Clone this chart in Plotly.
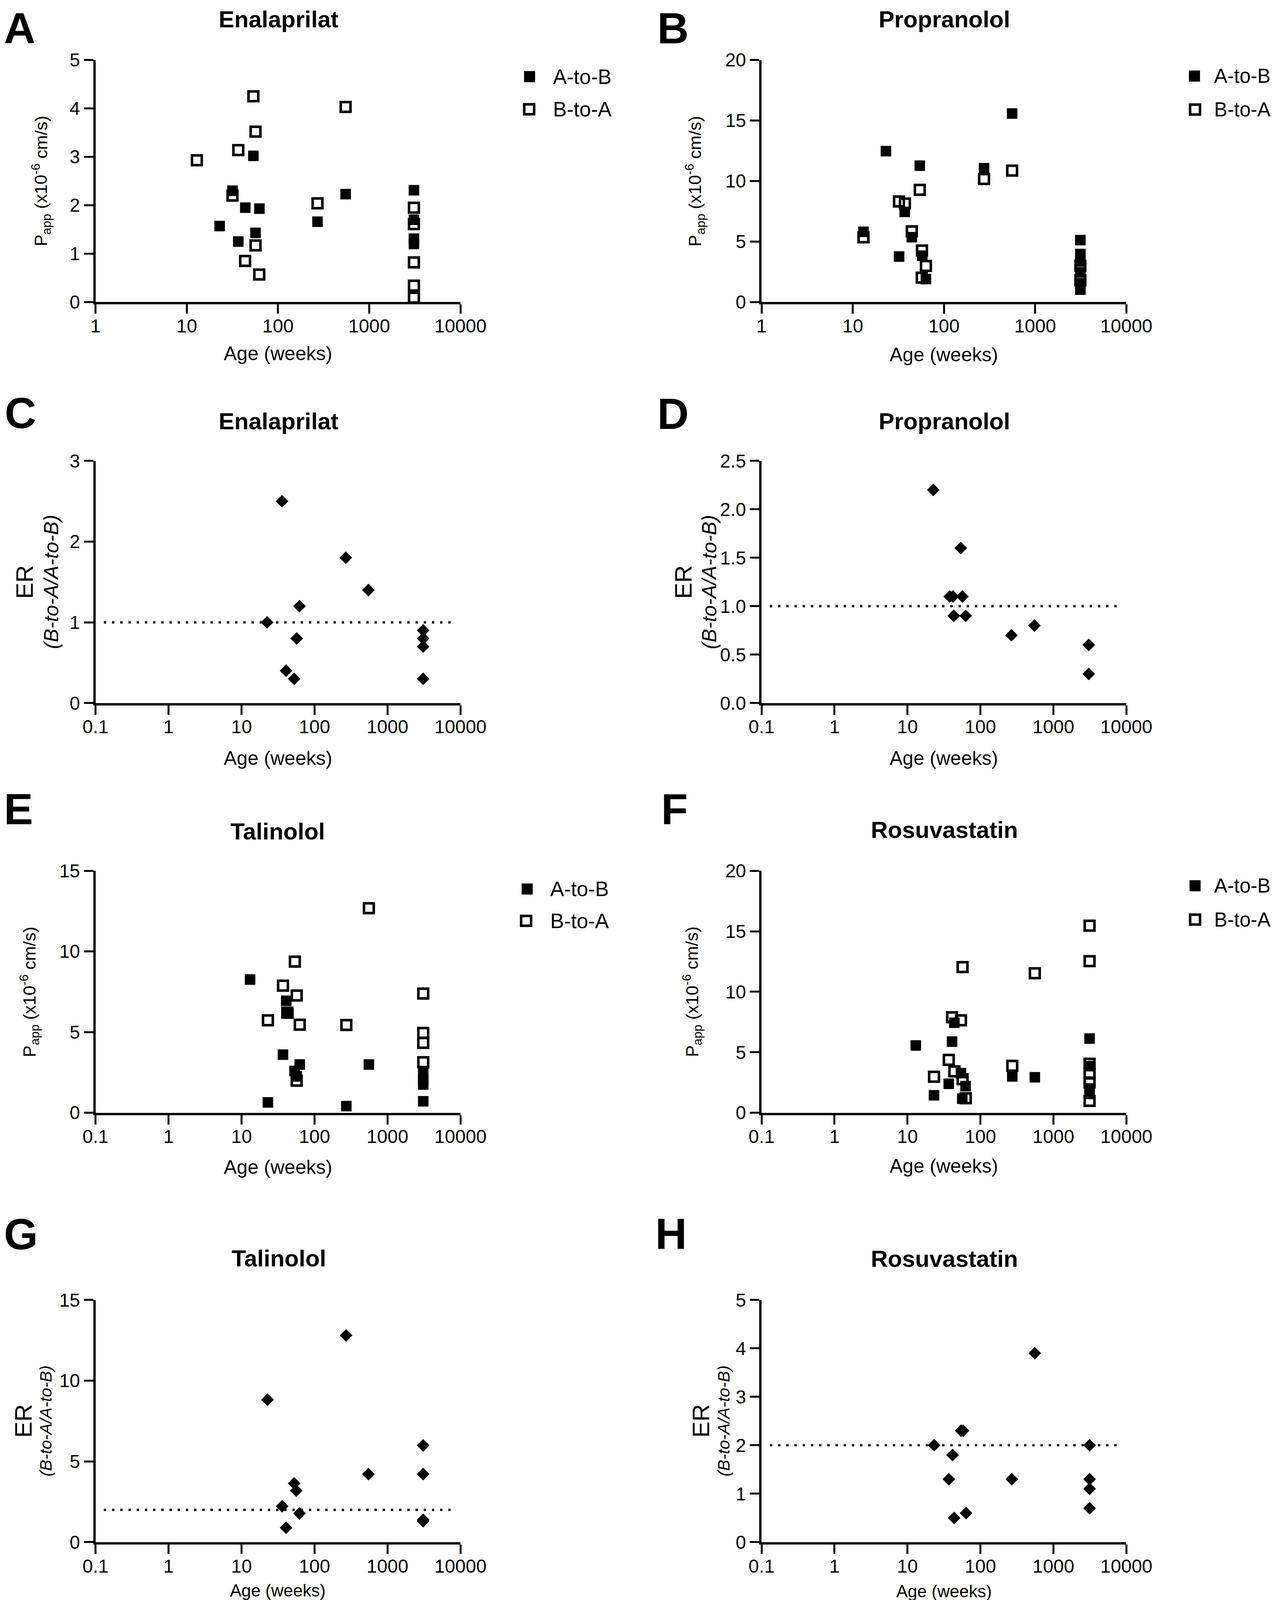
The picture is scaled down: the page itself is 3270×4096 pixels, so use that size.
import math
import plotly.graph_objects as go

# ---------------- data ----------------
X_TICKS_1 = [1, 10, 100, 1000, 10000]
X_TEXT_1 = ["1", "10", "100", "1000", "10000"]
X_TICKS_01 = [0.1, 1, 10, 100, 1000, 10000]
X_TEXT_01 = ["0.1", "1", "10", "100", "1000", "10000"]

# Panel A - Enalaprilat Papp
ENA_AB_AGE = [22.9, 31.7, 36.7, 43.8, 53.7, 56.7, 62.5, 271, 551, 3090, 3090, 3090, 3090]
ENA_AB_VAL = [1.57, 2.30, 1.25, 1.95, 3.02, 1.43, 1.93, 1.66, 2.23, 2.31, 1.70, 1.31, 1.20]
ENA_BA_AGE = [12.9, 31.7, 36.7, 43.6, 53.7, 56.7, 56.7, 62.3, 271, 551, 3090, 3090, 3090, 3090, 3090]
ENA_BA_VAL = [2.93, 2.20, 3.14, 0.85, 4.25, 3.52, 1.17, 0.57, 2.04, 4.03, 1.95, 1.61, 0.82, 0.34, 0.09]

# Panel B - Propranolol Papp
PRO_AB_AGE = [13.1, 23.1, 32.2, 37.1, 44.4, 54.3, 57.8, 63.4, 275, 559, 3130, 3130, 3130, 3130, 3130, 3130]
PRO_AB_VAL = [5.80, 12.47, 3.76, 7.45, 5.36, 11.27, 3.83, 1.90, 11.06, 15.58, 5.12, 3.97, 3.35, 2.45, 1.55, 1.03]
PRO_BA_AGE = [13.1, 32.1, 37.3, 44.4, 54.3, 57.4, 57.1, 63.4, 275, 559, 3130, 3130]
PRO_BA_VAL = [5.35, 8.31, 8.14, 5.84, 9.27, 4.26, 2.02, 2.99, 10.17, 10.86, 3.00, 1.80]

# Panel C - Enalaprilat ER
ENA_ER_AGE = [22.4, 35.9, 40.8, 52.7, 57.0, 62.3, 268, 548, 3083, 3083, 3083, 3083]
ENA_ER_VAL = [1.0, 2.5, 0.4, 0.3, 0.8, 1.2, 1.8, 1.4, 0.9, 0.8, 0.7, 0.3]

# Panel D - Propranolol ER
PRO_ER_AGE = [22.6, 37.9, 42.0, 43.1, 53.7, 56.5, 62.7, 266, 548, 3050, 3050]
PRO_ER_VAL = [2.2, 1.1, 1.1, 0.9, 1.6, 1.1, 0.9, 0.7, 0.8, 0.6, 0.3]

# Panel E - Talinolol Papp
TAL_AB_AGE = [13.1, 23.0, 37.0, 41.0, 44.0, 53.3, 57.0, 62.8, 273, 556, 3090, 3090, 3090, 3090]
TAL_AB_VAL = [8.26, 0.64, 3.60, 6.94, 6.15, 2.59, 2.25, 2.99, 0.41, 2.99, 2.45, 2.05, 1.75, 0.71]
TAL_BA_AGE = [23.0, 37.0, 42.4, 53.8, 57.0, 57.0, 62.8, 273, 556, 3090, 3090, 3090, 3090]
TAL_BA_VAL = [5.73, 7.88, 6.20, 9.37, 7.27, 1.99, 5.46, 5.44, 12.68, 7.39, 4.95, 4.33, 3.13]

# Panel F - Rosuvastatin Papp
ROS_AB_AGE = [13.0, 23.1, 36.8, 40.8, 43.9, 54.1, 56.3, 62.5, 273, 556, 3130, 3130, 3130, 3130]
ROS_AB_VAL = [5.56, 1.44, 2.39, 5.88, 7.44, 3.27, 1.16, 2.20, 3.00, 2.93, 6.13, 3.85, 2.00, 1.55]
ROS_BA_AGE = [23.1, 36.8, 40.8, 43.9, 54.1, 56.9, 56.9, 63.0, 273, 556, 3130, 3130, 3130, 3130, 3130, 3130]
ROS_BA_VAL = [2.97, 4.37, 7.89, 3.42, 7.64, 12.04, 2.77, 1.20, 3.88, 11.53, 15.46, 12.53, 4.05, 3.24, 2.50, 0.98]

# Panel G - Talinolol ER
TAL_ER_AGE = [22.7, 36.0, 40.8, 52.7, 56.2, 62.3, 271, 548, 3083, 3083, 3083, 3083]
TAL_ER_VAL = [8.82, 2.22, 0.89, 3.64, 3.19, 1.78, 12.80, 4.21, 5.99, 4.21, 1.38, 1.30]

# Panel H - Rosuvastatin ER
ROS_ER_AGE = [23.2, 36.9, 41.5, 43.6, 54.3, 57.9, 63.5, 269, 555, 3133, 3133, 3133, 3133]
ROS_ER_VAL = [2.0, 1.3, 1.8, 0.5, 2.3, 2.3, 0.6, 1.3, 3.9, 2.0, 1.3, 1.1, 0.7]

ER_REF_X = [0.13, 8500]

SERIES_NAMES = ["A-to-B", "B-to-A"]
# "Papp (x10-6 cm/s)" split into (text, role, space-before)
PAPP_PIECES = [("P", "base", False), ("app", "sub", False), ("(x10", "base", True),
               ("-6", "sup", False), ("cm/s)", "base", True)]
ER_MAIN = "ER"
ER_SUB = "(B-to-A/A-to-B)"
X_TITLE = "Age (weeks)"

# ---------------- geometry (reference pixel space) ----------------
RW, RH = 3917, 4907
W, H = 3270, 4096
K = W / RW

def px(x):
    return x / RW

def py(y):
    return 1 - y / RH

COLS = [(283.5, 1402.8), (2326.4, 3445.4)]
ROWS = [(174.5, 916.8), (1404.0, 2146.5), (2661.0, 3403.0), (3977.0, 4720.0)]

SANS = "Liberation Sans, Arial, sans-serif"

# Arial / Liberation Sans advance widths (em)
ADV = {"P": .667, "a": .556, "p": .556, "(": .333, "x": .5, "1": .556, "0": .556, "-": .333,
       "6": .556, "c": .5, "m": .833, "/": .278, "s": .5, ")": .333, " ": .278}

def text_w(t, size):
    return sum(ADV.get(ch, .556) for ch in t) * size

panels = [
    dict(letter="A", title="Enalaprilat", col=0, row=0, kind="papp", xt=(X_TICKS_1, X_TEXT_1),
         y=[0, 1, 2, 3, 4, 5], yfmt="{:g}", ab=(ENA_AB_AGE, ENA_AB_VAL), ba=(ENA_BA_AGE, ENA_BA_VAL),
         ytitle_x=116, legend=((1614.8, 225.5), (1613.6, 325.6), 1684), xtitle_y=1075, xtsize=50, lsize=53),
    dict(letter="B", title="Propranolol", col=1, row=0, kind="papp", xt=(X_TICKS_1, X_TEXT_1),
         y=[0, 5, 10, 15, 20], yfmt="{:g}", ab=(PRO_AB_AGE, PRO_AB_VAL), ba=(PRO_BA_AGE, PRO_BA_VAL),
         ytitle_x=2122, legend=((3654.2, 223.7), (3656.0, 326.4), 3712), xtitle_y=1078, xtsize=50, lsize=51),
    dict(letter="C", title="Enalaprilat", col=0, row=1, kind="er", xt=(X_TICKS_01, X_TEXT_01),
         y=[0, 1, 2, 3], yfmt="{:g}", er=(ENA_ER_AGE, ENA_ER_VAL), thr=1,
         er_x=(66, 147), er_sub_size=52, xtitle_y=2316, xtsize=50),
    dict(letter="D", title="Propranolol", col=1, row=1, kind="er", xt=(X_TICKS_01, X_TEXT_01),
         y=[0, 0.5, 1.0, 1.5, 2.0, 2.5], yfmt="{:.1f}", er=(PRO_ER_AGE, PRO_ER_VAL), thr=1,
         er_x=(2087, 2165.8), er_sub_size=52, xtitle_y=2316, xtsize=50),
    dict(letter="E", title="Talinolol", col=0, row=2, kind="papp", xt=(X_TICKS_01, X_TEXT_01),
         y=[0, 5, 10, 15], yfmt="{:g}", ab=(TAL_AB_AGE, TAL_AB_VAL), ba=(TAL_BA_AGE, TAL_BA_VAL),
         ytitle_x=80.8, legend=((1607.4, 2716.9), (1604.2, 2814.5), 1676), xtitle_y=3570, xtsize=50, lsize=53),
    dict(letter="F", title="Rosuvastatin", col=1, row=2, kind="papp", xt=(X_TICKS_01, X_TEXT_01),
         y=[0, 5, 10, 15, 20], yfmt="{:g}", ab=(ROS_AB_AGE, ROS_AB_VAL), ba=(ROS_BA_AGE, ROS_BA_VAL),
         ytitle_x=2113, legend=((3656.1, 2706.9), (3656.1, 2810.6), 3712), xtitle_y=3566, xtsize=50, lsize=51),
    dict(letter="G", title="Talinolol", col=0, row=3, kind="er", xt=(X_TICKS_01, X_TEXT_01),
         y=[0, 5, 10, 15], yfmt="{:g}", er=(TAL_ER_AGE, TAL_ER_VAL), thr=2,
         er_x=(62, 130.6), er_sub_size=43, xtitle_y=4868, xtsize=44),
    dict(letter="H", title="Rosuvastatin", col=1, row=3, kind="er", xt=(X_TICKS_01, X_TEXT_01),
         y=[0, 1, 2, 3, 4, 5], yfmt="{:g}", er=(ROS_ER_AGE, ROS_ER_VAL), thr=2,
         er_x=(2140, 2210), er_sub_size=43, xtitle_y=4870, xtsize=44),
]

TITLE_POS = {"A": (845.6, 50), "B": (2887.7, 50), "C": (845.6, 1283), "D": (2887.7, 1282),
             "E": (842.5, 2540), "F": (2887.7, 2536), "G": (845.6, 3850), "H": (2887.7, 3851)}
# (left edge, vertical centre); None -> anchored to top of figure
LETTER_POS = {"A": (0, None), "B": (2004, None), "C": (2, 1257.6), "D": (2004, 1259.7),
              "E": (0, 2471.7), "F": (2016, 2471.7), "G": (0, 3776), "H": (1998, 3774)}

fig = go.Figure()
layout = dict(annotations=[], shapes=[])

axis_common = dict(showline=True, linecolor="black", linewidth=6, ticks="outside", ticklen=24,
                   tickwidth=5, tickcolor="black", showgrid=False, zeroline=False, automargin=False,
                   tickfont=dict(family=SANS, size=48, color="black"), fixedrange=True)

BASE = 45
SMALL = 32

for i, p in enumerate(panels, start=1):
    xa = "x" if i == 1 else f"x{i}"
    ya = "y" if i == 1 else f"y{i}"
    x0, x1 = COLS[p["col"]]
    y0, y1 = ROWS[p["row"]]
    tv, tt = p["xt"]
    layout[f"xaxis{i if i > 1 else ''}"] = dict(
        axis_common, domain=[px(x0), px(x1)], anchor=ya, type="log",
        range=[math.log10(tv[0]), math.log10(tv[-1])], tickvals=tv, ticktext=tt,
        ticklabelstandoff=-10)
    layout[f"yaxis{i if i > 1 else ''}"] = dict(
        axis_common, domain=[py(y1), py(y0)], anchor=xa, range=[p["y"][0], p["y"][-1]],
        tickvals=p["y"], ticktext=[p["yfmt"].format(v) for v in p["y"]])

    ymid = py((y0 + y1) / 2)
    if p["kind"] == "papp":
        fig.add_trace(go.Scatter(x=p["ab"][0], y=p["ab"][1], mode="markers", name=SERIES_NAMES[0],
                                 xaxis=xa, yaxis=ya, cliponaxis=False,
                                 marker=dict(symbol="square", size=27, color="black", line=dict(width=0))))
        fig.add_trace(go.Scatter(x=p["ba"][0], y=p["ba"][1], mode="markers", name=SERIES_NAMES[1],
                                 xaxis=xa, yaxis=ya, cliponaxis=False,
                                 marker=dict(symbol="square-open", size=25, color="black",
                                             line=dict(width=6.5, color="black"))))
        # rotated y title built from pieces (reads bottom to top)
        widths = []
        for t, role, sp in PAPP_PIECES:
            sz = BASE if role == "base" else SMALL
            widths.append((text_w(" ", BASE) if sp else 0.0, text_w(t, sz), sz, t, role))
        total = sum(g + w for g, w, _, _, _ in widths)
        ymid_out = (1 - ymid) * H
        xc_out = p["ytitle_x"] * K
        cursor = ymid_out + total / 2
        for g, w, sz, t, role in widths:
            cursor -= g
            cy = cursor - w / 2
            cursor -= w
            dx = 0.0
            if role == "sub":
                dx = 14.0
            elif role == "sup":
                dx = -14.0
            layout["annotations"].append(dict(
                text=t, xref="paper", yref="paper", x=(xc_out + dx) / W, y=1 - cy / H,
                xanchor="center", yanchor="middle", textangle=-90, showarrow=False, borderpad=0,
                font=dict(family=SANS, size=sz, color="black")))
        # legend keys
        (fx1, fy1), (fx2, fy2), tx = p["legend"]
        s = 34 * K
        layout["shapes"].append(dict(type="rect", xref="paper", yref="paper",
                                     x0=px(fx1) - s / 2 / W, x1=px(fx1) + s / 2 / W,
                                     y0=py(fy1) - s / 2 / H, y1=py(fy1) + s / 2 / H,
                                     fillcolor="black", line=dict(width=0)))
        so = 30.4 * K
        layout["shapes"].append(dict(type="rect", xref="paper", yref="paper",
                                     x0=px(fx2) - so / 2 / W, x1=px(fx2) + so / 2 / W,
                                     y0=py(fy2) - so / 2 / H, y1=py(fy2) + so / 2 / H,
                                     fillcolor="rgba(0,0,0,0)", line=dict(width=6.5, color="black")))
        for name, fyy in zip(SERIES_NAMES, (fy1, fy2)):
            layout["annotations"].append(dict(
                text=name, xref="paper", yref="paper", x=px(tx), y=py(fyy),
                xanchor="left", yanchor="middle", showarrow=False,
                font=dict(family=SANS, size=p["lsize"], color="black")))
    else:
        fig.add_trace(go.Scatter(x=ER_REF_X, y=[p["thr"], p["thr"]], mode="lines", xaxis=xa, yaxis=ya,
                                 line=dict(color="black", width=6, dash="6px,15px"), showlegend=False))
        fig.add_trace(go.Scatter(x=p["er"][0], y=p["er"][1], mode="markers", xaxis=xa, yaxis=ya,
                                 cliponaxis=False,
                                 marker=dict(symbol="diamond", size=25, color="black", line=dict(width=0))))
        ex1, ex2 = p["er_x"]
        layout["annotations"].append(dict(
            text=ER_MAIN, xref="paper", yref="paper", x=px(ex1), y=ymid,
            xanchor="center", yanchor="middle", textangle=-90, showarrow=False,
            font=dict(family=SANS, size=62, color="black")))
        layout["annotations"].append(dict(
            text=ER_SUB, xref="paper", yref="paper", x=px(ex2), y=ymid,
            xanchor="center", yanchor="middle", textangle=-90, showarrow=False,
            font=dict(family=SANS, size=p["er_sub_size"], color="black", style="italic")))

    layout["annotations"].append(dict(
        text=X_TITLE, xref="paper", yref="paper", x=px((x0 + x1) / 2), y=py(p["xtitle_y"]),
        xanchor="center", yanchor="middle", showarrow=False,
        font=dict(family=SANS, size=p["xtsize"], color="black")))
    tx_, ty_ = TITLE_POS[p["letter"]]
    layout["annotations"].append(dict(
        text=p["title"], xref="paper", yref="paper", x=px(tx_), y=py(ty_),
        xanchor="center", yanchor="middle", showarrow=False,
        font=dict(family=SANS, size=60, color="black", weight="bold")))
    lx, ly = LETTER_POS[p["letter"]]
    layout["annotations"].append(dict(
        text=p["letter"], xref="paper", yref="paper", x=px(lx),
        y=1.0 if ly is None else py(ly),
        xanchor="left", yanchor="top" if ly is None else "middle", showarrow=False,
        font=dict(family=SANS, size=112, color="black", weight="bold")))

fig.update_layout(**layout)
fig.update_layout(template="none", width=W, height=H, margin=dict(l=0, r=0, t=0, b=0, pad=0),
                  paper_bgcolor="white", plot_bgcolor="white", showlegend=False)

fig.write_html("out.html")
